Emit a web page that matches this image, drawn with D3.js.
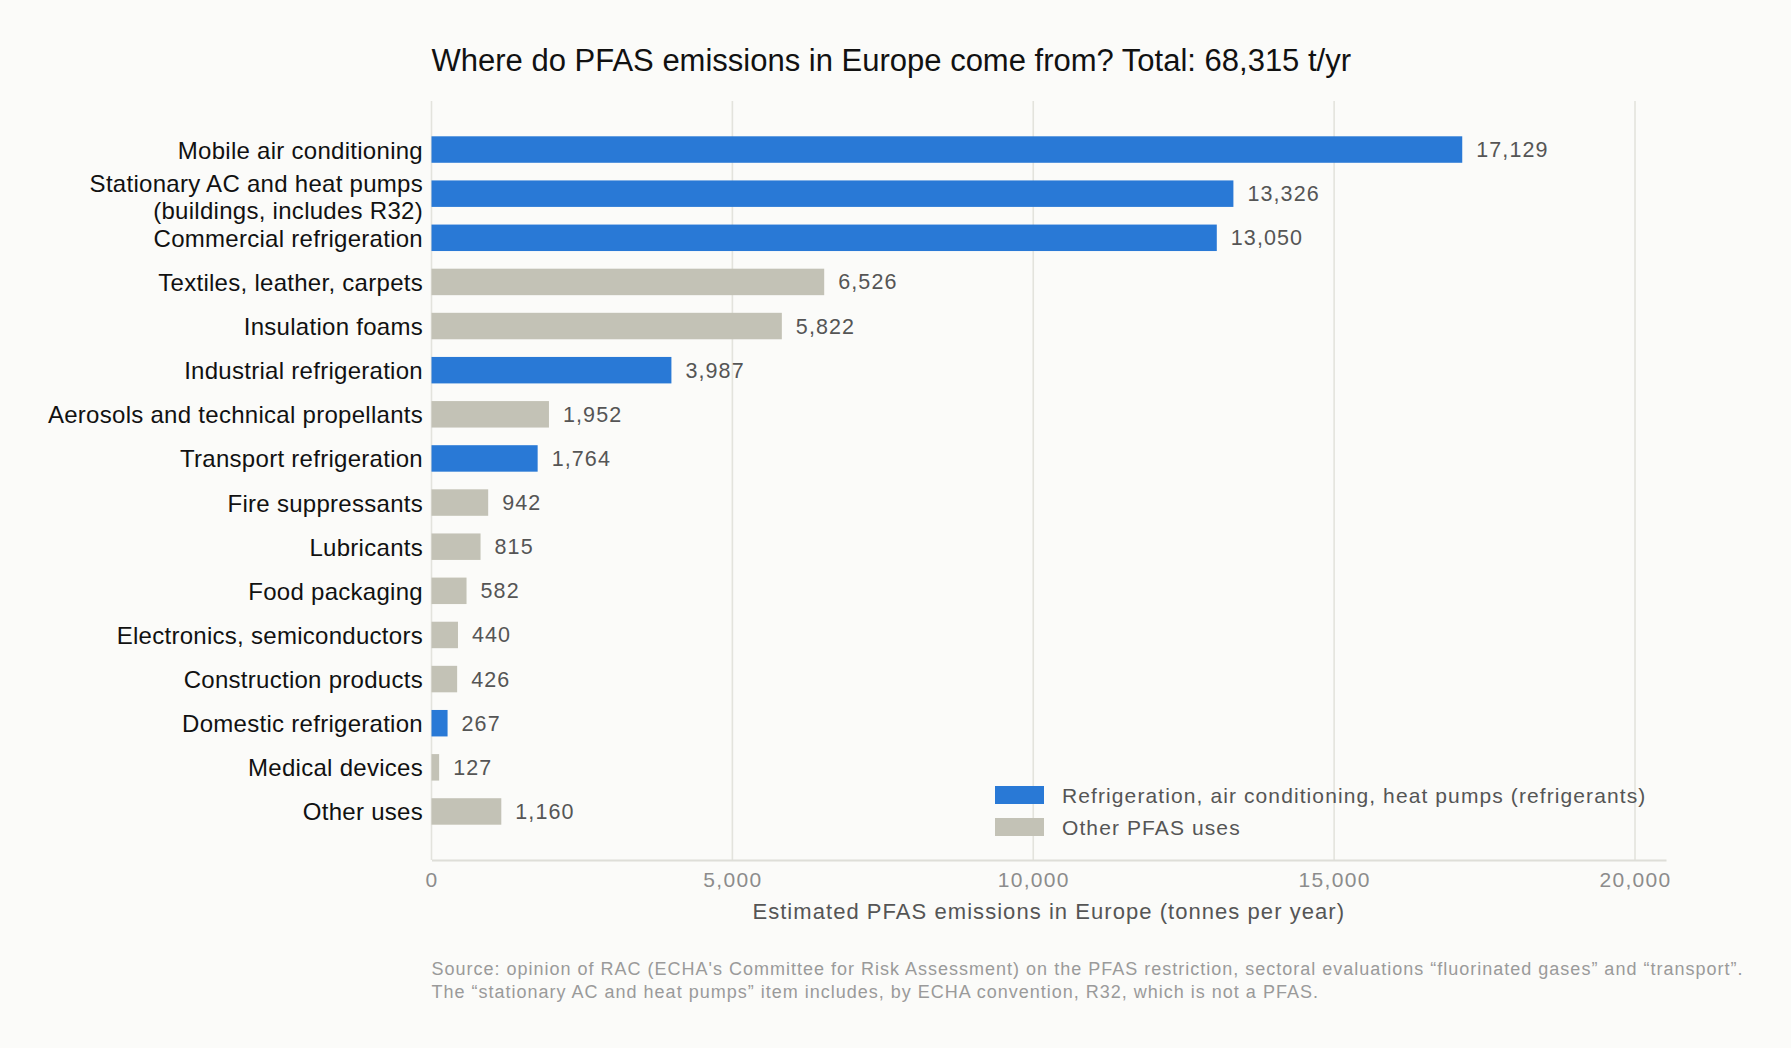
<!DOCTYPE html>
<html>
<head>
<meta charset="utf-8">
<script src="https://cdn.jsdelivr.net/npm/d3@7"></script>
<style>
  html, body { margin: 0; padding: 0; background: #fbfbf9; }
  text { font-family: "Liberation Sans", Arial, Helvetica, sans-serif; }
</style>
</head>
<body>
<div id="chart"></div>
<script>
const width = 1791;
const height = 1048;

// data
const categories = [
  "Mobile air conditioning",
  "Stationary AC and heat pumps\n(buildings, includes R32)",
  "Commercial refrigeration",
  "Textiles, leather, carpets",
  "Insulation foams",
  "Industrial refrigeration",
  "Aerosols and technical propellants",
  "Transport refrigeration",
  "Fire suppressants",
  "Lubricants",
  "Food packaging",
  "Electronics, semiconductors",
  "Construction products",
  "Domestic refrigeration",
  "Medical devices",
  "Other uses"
];
const values = [17129, 13326, 13050, 6526, 5822, 3987, 1952, 1764, 942, 815, 582, 440, 426, 267, 127, 1160];
const groups = ["ref", "ref", "ref", "other", "other", "ref", "other", "ref", "other", "other", "other", "other", "other", "ref", "other", "other"];
const legendLabels = ["Refrigeration, air conditioning, heat pumps (refrigerants)", "Other PFAS uses"];
const xTicks = [0, 5000, 10000, 15000, 20000];

const title = "Where do PFAS emissions in Europe come from? Total: 68,315 t/yr";
const xTitle = "Estimated PFAS emissions in Europe (tonnes per year)";
const sourceLines = [
  "Source: opinion of RAC (ECHA's Committee for Risk Assessment) on the PFAS restriction, sectoral evaluations \u201cfluorinated gases\u201d and \u201ctransport\u201d.",
  "The \u201cstationary AC and heat pumps\u201d item includes, by ECHA convention, R32, which is not a PFAS."
];

const rows = categories.map((c, i) => ({ cat: c, value: values[i], group: groups[i] }));

const color = d3.scaleOrdinal()
  .domain(["ref", "other"])
  .range(["#2979d6", "#c3c2b6"]);

const plot = { left: 431.5, right: 1666, top: 101, bottom: 860 };

const x = d3.scaleLinear()
  .domain([0, 20515])
  .range([plot.left, plot.right]);

const y = d3.scaleBand()
  .domain(categories)
  .range([plot.top, plot.bottom])
  .paddingInner(0.4)
  .paddingOuter(0.8);

const svg = d3.select("#chart")
  .append("svg")
  .attr("width", width)
  .attr("height", height);

svg.append("rect")
  .attr("width", width)
  .attr("height", height)
  .attr("fill", "#fbfbf9");

// title
svg.append("text")
  .attr("x", plot.left)
  .attr("y", 71)
  .attr("font-size", 31)
  .attr("fill", "#111")
  .text(title);

// gridlines
svg.append("g").selectAll("line")
  .data(xTicks)
  .join("line")
  .attr("x1", d => x(d))
  .attr("x2", d => x(d))
  .attr("y1", plot.top)
  .attr("y2", plot.bottom)
  .attr("stroke", "#e3e3dd")
  .attr("stroke-width", 1.6);

// x axis
const xAxis = svg.append("g")
  .attr("transform", `translate(0,${plot.bottom})`)
  .call(d3.axisBottom(x).tickValues(xTicks).tickSize(0).tickPadding(27).tickFormat(d3.format(",")));
xAxis.select(".domain").attr("stroke", "#deded8").attr("stroke-width", 2);
xAxis.selectAll("text")
  .attr("font-size", 21)
  .attr("fill", "#8c8c8c")
  .attr("dy", 0)
  .style("letter-spacing", "1.3px")
  .style("font-family", "Liberation Sans, Arial, sans-serif");

svg.append("text")
  .attr("x", (plot.left + plot.right) / 2)
  .attr("y", 919)
  .attr("text-anchor", "middle")
  .attr("font-size", 22)
  .attr("fill", "#555")
  .style("letter-spacing", "1.05px")
  .text(xTitle);

// bars
svg.append("g").selectAll("rect")
  .data(rows)
  .join("rect")
  .attr("x", x(0))
  .attr("y", d => y(d.cat))
  .attr("width", d => x(d.value) - x(0))
  .attr("height", y.bandwidth())
  .attr("fill", d => color(d.group));

// value labels
svg.append("g").selectAll("text")
  .data(rows)
  .join("text")
  .attr("x", d => x(d.value) + 14)
  .attr("y", d => y(d.cat) + y.bandwidth() / 2 + 7.5)
  .attr("font-size", 21.5)
  .attr("fill", "#555")
  .style("letter-spacing", "1.1px")
  .text(d => d3.format(",")(d.value));

// category labels
const catLabels = svg.append("g").selectAll("text")
  .data(rows)
  .join("text")
  .attr("text-anchor", "end")
  .attr("font-size", 24)
  .attr("fill", "#111")
  .style("letter-spacing", "0.28px");

catLabels.each(function(d) {
  const lines = d.cat.split("\n");
  const cy = y(d.cat) + y.bandwidth() / 2;
  const n = lines.length;
  d3.select(this).selectAll("tspan")
    .data(lines)
    .join("tspan")
    .attr("x", 423)
    .attr("y", (l, i) => cy + 9 + (n > 1 ? 2.5 : 0) + (i - (n - 1) / 2) * 27)
    .text(l => l);
});

// legend
const legend = svg.append("g").attr("transform", "translate(995,786)");
legendLabels.forEach((lab, i) => {
  legend.append("rect")
    .attr("x", 0)
    .attr("y", i * 32)
    .attr("width", 49)
    .attr("height", 18)
    .attr("fill", color.range()[i]);
  legend.append("text")
    .attr("x", 67)
    .attr("y", i * 32 + 17)
    .attr("font-size", 21)
    .attr("fill", "#555")
    .style("letter-spacing", "1.1px")
    .text(lab);
});

// source note
svg.append("g").selectAll("text")
  .data(sourceLines)
  .join("text")
  .attr("x", plot.left)
  .attr("y", (d, i) => 975 + i * 22.5)
  .attr("font-size", 18)
  .attr("fill", "#9a9a9a")
  .style("letter-spacing", "1px")
  .text(d => d);
</script>
</body>
</html>
